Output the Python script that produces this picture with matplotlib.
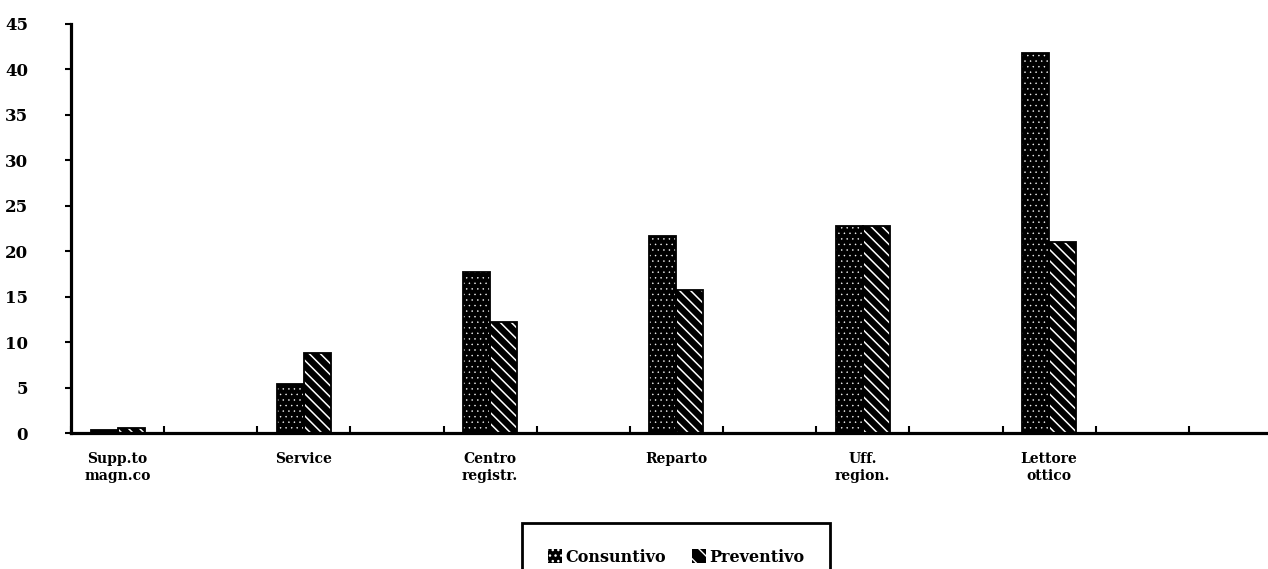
import matplotlib
matplotlib.use("Agg")
import matplotlib.pyplot as plt
from matplotlib.patches import Patch
import numpy as np

categories = ["Supp.to\nmagn.co", "Service", "Centro\nregistr.", "Reparto", "Uff.\nregion.", "Lettore\nottico"]
consuntivo = [0.3, 5.4, 17.7, 21.7, 22.8, 41.8]
preventivo = [0.6, 8.8, 12.2, 15.7, 22.8, 21.0]
y_ticks = [0, 5, 10, 15, 20, 25, 30, 35, 40, 45]
series_names = ["Consuntivo", "Preventivo"]

FONT = 'DejaVu Serif'
DOT_HATCH = '...'
LINE_HATCH = '\\\\\\'

fig = plt.figure(figsize=(12.68, 5.69), dpi=100)
ax = fig.add_axes([71/1268, 1-433/569, 1-71/1268, (433-24)/569])

x = np.arange(len(categories))
w = 0.145
for vals, off, hatch, hlw in [(consuntivo, -w/2, DOT_HATCH, 0.3), (preventivo, w/2, LINE_HATCH, 1.1)]:
    with plt.rc_context({'hatch.linewidth': hlw}):
        ax.bar(x + off, vals, width=w, color='black', edgecolor='white', hatch=hatch, linewidth=0, zorder=2)
    ax.bar(x + off, vals, width=w, fill=False, edgecolor='black', linewidth=1.3, zorder=3)

ax.set_xlim(-0.25, -0.25 + 1197/186.3)
ax.set_ylim(0, 45)
for s in ['top', 'right']:
    ax.spines[s].set_visible(False)
for s in ['left', 'bottom']:
    ax.spines[s].set_linewidth(2.3)
    ax.spines[s].set_zorder(4)

ax.set_xticks(x)
ax.set_xticklabels(categories, fontfamily=FONT, fontweight='bold', fontsize=10)
ax.tick_params(axis='x', which='major', length=0, pad=14)
ax.set_xticks(np.arange(-0.25, 6.2, 0.5), minor=True)
ax.tick_params(axis='x', which='minor', direction='in', length=5, width=1.5)

ax.set_yticks(y_ticks)
ax.set_yticklabels([str(v) for v in y_ticks], fontfamily=FONT, fontweight='bold', fontsize=12)
ax.tick_params(axis='y', direction='out', length=4, width=1.5, pad=27)

with plt.rc_context({'hatch.linewidth': 0.3}):
    h1 = Patch(facecolor='black', edgecolor='white', hatch=DOT_HATCH, linewidth=0)
with plt.rc_context({'hatch.linewidth': 1.3}):
    h2 = Patch(facecolor='black', edgecolor='white', hatch='\\\\', linewidth=0)
leg = fig.legend([h1, h2], series_names, loc='upper center', bbox_to_anchor=(676/1268, 1-515/569),
                 ncol=2, frameon=True, fancybox=False, edgecolor='black', framealpha=1, borderpad=1.6,
                 handlelength=0.9, handleheight=0.9, handletextpad=0.2, columnspacing=1.6,
                 prop={'family': FONT, 'weight': 'bold', 'size': 11.5})
leg.get_frame().set_linewidth(2)

fig.savefig('out.png', dpi=100)
